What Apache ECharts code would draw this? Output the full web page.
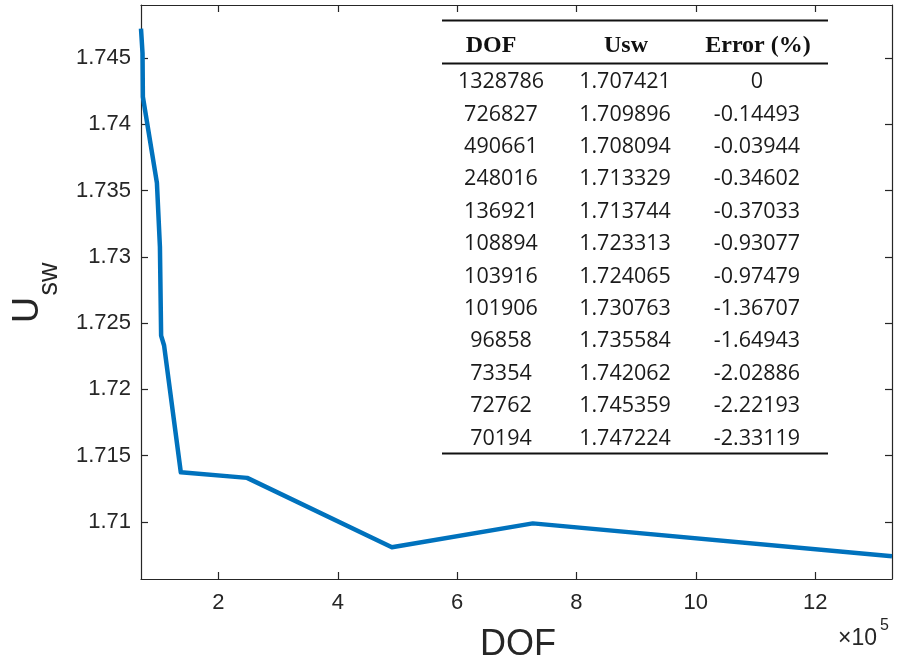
<!DOCTYPE html>
<html><head><meta charset="utf-8">
<script src="https://cdn.jsdelivr.net/npm/echarts@6/dist/echarts.min.js"></script>
<style>html,body{margin:0;padding:0;background:#fff}#c{width:897px;height:666px}</style>
</head><body><div id="c"></div>
<script>
// ---- data ----
const dof = [1328786, 726827, 490661, 248016, 136921, 108894, 103916, 101906, 96858, 73354, 72762, 70194];
const usw = [1.707421, 1.709896, 1.708094, 1.713329, 1.713744, 1.723313, 1.724065, 1.730763, 1.735584, 1.742062, 1.745359, 1.747224];
const errPct = ['0', '-0.14493', '-0.03944', '-0.34602', '-0.37033', '-0.93077', '-0.97479', '-1.36707', '-1.64943', '-2.02886', '-2.22193', '-2.33119'];
const headers = ['DOF', 'Usw', 'Error (%)'];
const xTicks = [200000, 400000, 600000, 800000, 1000000, 1200000];
const xTickLabels = ['2', '4', '6', '8', '10', '12'];
const yTicks = [1.71, 1.715, 1.72, 1.725, 1.73, 1.735, 1.74, 1.745];
const yTickLabels = ['1.71', '1.715', '1.72', '1.725', '1.73', '1.735', '1.74', '1.745'];
const xRange = [70194, 1328786];
const yRange = [1.7057, 1.749];

// ---- chart ----
const chart = echarts.init(document.getElementById('c'), null, {renderer: 'canvas'});
const axisCol = '#262626';
const pts = dof.map((d, i) => [d, usw[i]]).sort((a, b) => a[0] - b[0]);

const xLabelMap = {}; xTicks.forEach((v, i) => xLabelMap[v] = xTickLabels[i]);
const yLabelMap = {}; yTicks.forEach((v, i) => yLabelMap[v.toFixed(3)] = yTickLabels[i]);

const baseX = {
  type: 'value', min: xRange[0], max: xRange[1],
  axisLine: {show: true, onZero: false, lineStyle: {color: axisCol, width: 1.2}},
  axisTick: {show: true, inside: true, length: 7, customValues: xTicks, lineStyle: {color: axisCol, width: 1.2}},
  splitLine: {show: false}
};
const baseY = {
  type: 'value', min: yRange[0], max: yRange[1],
  axisLine: {show: true, onZero: false, lineStyle: {color: axisCol, width: 1.2}},
  axisTick: {show: true, inside: true, length: 7, customValues: yTicks, lineStyle: {color: axisCol, width: 1.2}},
  splitLine: {show: false}
};

// table graphics
const tbl = [];
const colX = [501, 625, 757];
const headX = [491, 626, 758];
const rowY0 = 82, rowH = 32.4;
headers.forEach((h, j) => tbl.push({
  type: 'text', x: headX[j], y: 46, z: 100,
  style: {text: h, font: 'bold 24px "Liberation Serif", "DejaVu Serif", serif', fill: '#111', textAlign: 'center', textVerticalAlign: 'middle'}
}));
dof.forEach((d, i) => {
  const cells = [String(d), usw[i].toFixed(6), errPct[i]];
  cells.forEach((t, j) => tbl.push({
    type: 'text', x: colX[j], y: rowY0 + i * rowH, z: 100,
    style: {text: t, font: '21.5px "Open Sans", "Noto Sans", sans-serif', fill: '#1a1a1a', textAlign: 'center', textVerticalAlign: 'middle'}
  }));
});
[20.5, 63.5, 453.5].forEach(y => tbl.push({
  type: 'line', z: 100, shape: {x1: 442, y1: y, x2: 828, y2: y},
  style: {stroke: '#111', lineWidth: 2}
}));

// axis name graphics
tbl.push({
  type: 'text', x: 28, y: 310, rotation: Math.PI / 2,
  style: {text: 'U', font: '36px "Liberation Sans", Arial, sans-serif', fill: axisCol, textAlign: 'center', textVerticalAlign: 'middle'}
});
tbl.push({
  type: 'text', x: 50, y: 279, rotation: Math.PI / 2,
  style: {text: 'sw', font: '27px "Liberation Sans", Arial, sans-serif', fill: axisCol, textAlign: 'center', textVerticalAlign: 'middle'}
});
tbl.push({
  type: 'text', x: 518, y: 645,
  style: {text: 'DOF', font: '36px "Liberation Sans", Arial, sans-serif', fill: axisCol, textAlign: 'center', textVerticalAlign: 'middle'}
});
tbl.push({
  type: 'text', x: 838, y: 639,
  style: {text: '×10', font: '23px "Liberation Sans", Arial, sans-serif', fill: axisCol, textAlign: 'left', textVerticalAlign: 'middle'}
});
tbl.push({
  type: 'text', x: 880, y: 626,
  style: {text: '5', font: '16px "Liberation Sans", Arial, sans-serif', fill: axisCol, textAlign: 'left', textVerticalAlign: 'middle'}
});

chart.setOption({
  backgroundColor: '#ffffff',
  animation: false,
  grid: {left: 141, top: 5, right: 5, bottom: 87, containLabel: false, outerBoundsMode: 'none'},
  xAxis: [
    Object.assign({}, baseX, {
      position: 'bottom',
      axisLabel: {show: true, customValues: xTicks, margin: 13, color: axisCol,
        fontSize: 22, fontFamily: '"Liberation Sans", Arial, sans-serif',
        formatter: v => xLabelMap[v] !== undefined ? xLabelMap[v] : ''}
    }),
    Object.assign({}, baseX, {position: 'top', axisLabel: {show: false}})
  ],
  yAxis: [
    Object.assign({}, baseY, {
      position: 'left',
      axisLabel: {show: true, customValues: yTicks, margin: 10, color: axisCol,
        fontSize: 22, fontFamily: '"Liberation Sans", Arial, sans-serif',
        formatter: v => { const k = (+v).toFixed(3); return yLabelMap[k] !== undefined ? yLabelMap[k] : ''; }}
    }),
    Object.assign({}, baseY, {position: 'right', axisLabel: {show: false}})
  ],
  series: [{
    type: 'line', data: pts, xAxisIndex: 0, yAxisIndex: 0,
    showSymbol: false, symbol: 'none',
    lineStyle: {color: '#0072BD', width: 4.5, join: 'round'},
    clip: true
  }],
  graphic: tbl
});
</script>
</body></html>
